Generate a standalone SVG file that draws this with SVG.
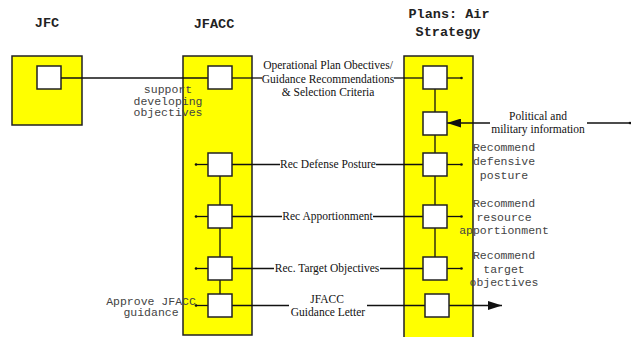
<svg xmlns="http://www.w3.org/2000/svg" width="631" height="337" viewBox="0 0 631 337">
<defs>
<style>
.col{fill:#ffff00;stroke:#222;stroke-width:1.5}
.box{fill:#fff;stroke:#222;stroke-width:1.5}
.ln{stroke:#111;stroke-width:1.3;fill:none}
.dot{fill:#111}
.hd{font-family:"Liberation Mono",monospace;font-weight:bold;font-size:13.5px;fill:#222;text-anchor:middle}
.mono{font-family:"Liberation Mono",monospace;font-size:11.5px;fill:#444;text-anchor:middle}
.ser{font-family:"Liberation Serif",serif;font-size:11.5px;fill:#111;text-anchor:middle}
</style>
<marker id="arr" viewBox="0 0 14 9" refX="14" refY="4.5" markerWidth="14" markerHeight="9" markerUnits="userSpaceOnUse" orient="auto">
<path d="M0,0 L14,4.5 L0,9 Z" fill="#111"/>
</marker>
</defs>
<rect width="631" height="337" fill="#fff"/>
<text class="hd" x="47" y="27">JFC</text>
<text class="hd" x="214" y="28">JFACC</text>
<text class="hd" x="449" y="18">Plans: Air</text>
<text class="hd" x="448" y="36">Strategy</text>

<g id="jfc">
<rect class="col" x="12" y="56" width="70" height="69"/>
<rect class="box" x="37" y="66" width="24" height="23"/>
</g>
<g id="jfacc">
<rect class="col" x="183" y="56" width="69" height="279"/>
</g>
<g id="plans">
<rect class="col" x="404" y="56" width="69" height="290"/>
</g>

<g id="connectors">
<line class="ln" x1="61" y1="78" x2="208" y2="78"/>
<line class="ln" x1="232" y1="78" x2="262" y2="78"/>
<line class="ln" x1="394" y1="78" x2="423" y2="78"/>
<line class="ln" x1="447" y1="78" x2="461" y2="78"/>
<circle class="dot" cx="461.5" cy="78" r="1.3"/>
<line class="ln" x1="220" y1="176" x2="220" y2="294"/>
<line class="ln" x1="435" y1="89" x2="435" y2="257"/>
<line class="ln" x1="196" y1="164.5" x2="208" y2="164.5"/>
<line class="ln" x1="196" y1="216.5" x2="208" y2="216.5"/>
<line class="ln" x1="196" y1="268.5" x2="208" y2="268.5"/>
<line class="ln" x1="196" y1="305.5" x2="208" y2="305.5"/>
<circle class="dot" cx="196" cy="164.5" r="1.3"/>
<circle class="dot" cx="196" cy="216.5" r="1.3"/>
<circle class="dot" cx="196" cy="268.5" r="1.3"/>
<circle class="dot" cx="196" cy="305.5" r="1.3"/>
<line class="ln" x1="232" y1="164.5" x2="280" y2="164.5"/>
<line class="ln" x1="376" y1="164.5" x2="423" y2="164.5"/>
<line class="ln" x1="232" y1="216.5" x2="282" y2="216.5"/>
<line class="ln" x1="373" y1="216.5" x2="423" y2="216.5"/>
<line class="ln" x1="232" y1="268.5" x2="274" y2="268.5"/>
<line class="ln" x1="380" y1="268.5" x2="423" y2="268.5"/>
<line class="ln" x1="232" y1="305.5" x2="289" y2="305.5"/>
<line class="ln" x1="367" y1="305.5" x2="425" y2="305.5"/>
<line class="ln" x1="447" y1="164.5" x2="461" y2="164.5"/>
<line class="ln" x1="447" y1="216.5" x2="461" y2="216.5"/>
<line class="ln" x1="447" y1="268.5" x2="461" y2="268.5"/>
<circle class="dot" cx="461.5" cy="164.5" r="1.3"/>
<circle class="dot" cx="461.5" cy="216.5" r="1.3"/>
<circle class="dot" cx="461.5" cy="268.5" r="1.3"/>
<line class="ln" x1="448" y1="305.5" x2="502" y2="305.5" marker-end="url(#arr)"/>
<line class="ln" x1="490" y1="123" x2="447" y2="123" marker-end="url(#arr)"/>
<line class="ln" x1="587" y1="123" x2="631" y2="123"/>
<circle class="dot" cx="630" cy="123" r="1.3"/>
</g>

<g id="jfacc-boxes">
<rect class="box" x="208" y="66" width="24" height="23"/>
<rect class="box" x="208" y="153" width="24" height="23"/>
<rect class="box" x="208" y="205" width="24" height="23"/>
<rect class="box" x="208" y="257" width="24" height="23"/>
<rect class="box" x="208" y="294" width="24" height="23"/>
</g>
<g id="plans-boxes">
<rect class="box" x="423" y="66" width="24" height="23"/>
<rect class="box" x="423" y="112" width="24" height="23"/>
<rect class="box" x="423" y="153" width="24" height="23"/>
<rect class="box" x="423" y="205" width="24" height="23"/>
<rect class="box" x="423" y="257" width="24" height="23"/>
<rect class="box" x="425" y="294" width="24" height="23"/>
</g>

<g id="labels">
<text class="mono" x="168" y="93">support</text>
<text class="mono" x="168" y="104.5">developing</text>
<text class="mono" x="168" y="116">objectives</text>
<text class="mono" x="151" y="304.5">Approve JFACC</text>
<text class="mono" x="151" y="316">guidance</text>
<text class="mono" x="504" y="151">Recommend</text>
<text class="mono" x="504" y="165">defensive</text>
<text class="mono" x="504" y="178.5">posture</text>
<text class="mono" x="504" y="206.5">Recommend</text>
<text class="mono" x="504" y="220.5">resource</text>
<text class="mono" x="504" y="234">apportionment</text>
<text class="mono" x="504" y="258.5">Recommend</text>
<text class="mono" x="504" y="272.5">target</text>
<text class="mono" x="504" y="286">objectives</text>
<text class="ser" x="328" y="68.5">Operational Plan Obectives/</text>
<text class="ser" x="328" y="82.5">Guidance Recommendations</text>
<text class="ser" x="328" y="96">&amp; Selection Criteria</text>
<text class="ser" x="328" y="168">Rec Defense Posture</text>
<text class="ser" x="327.5" y="220">Rec Apportionment</text>
<text class="ser" x="327" y="272">Rec. Target Objectives</text>
<text class="ser" x="327" y="302.5">JFACC</text>
<text class="ser" x="328" y="315.5">Guidance  Letter</text>
<text class="ser" x="538" y="119.5">Political and</text>
<text class="ser" x="538" y="133">military information</text>
</g>
</svg>
